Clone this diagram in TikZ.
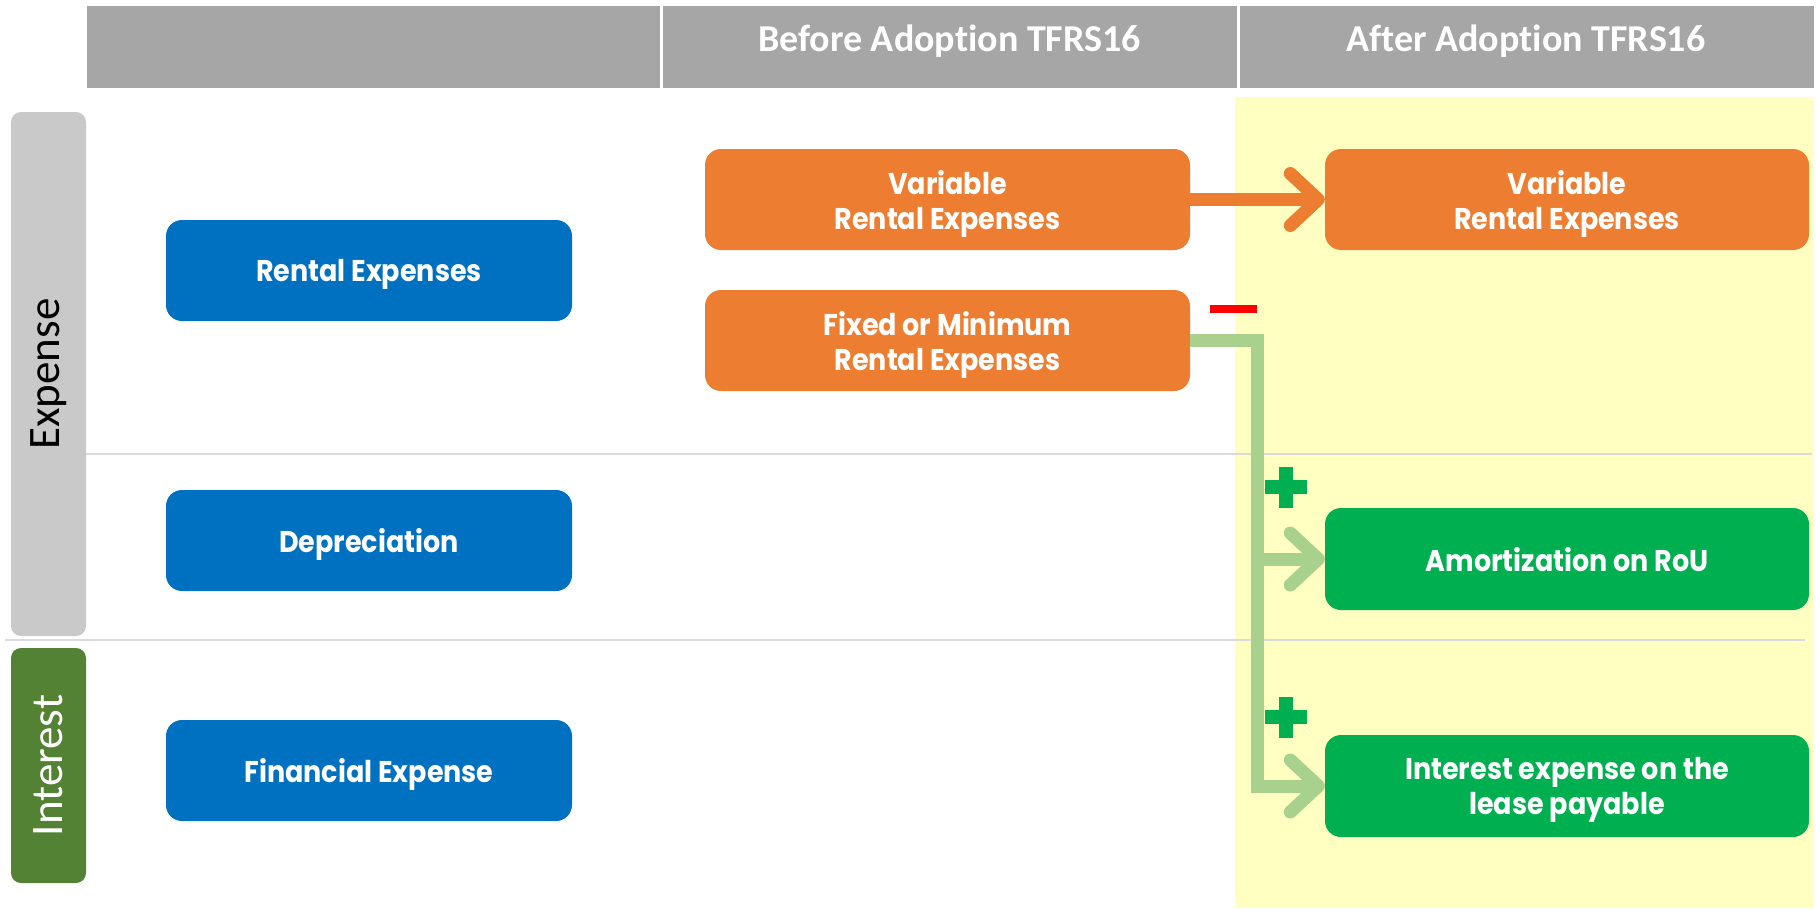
\documentclass[tikz,border=0pt]{standalone}
\usepackage{fontspec}
\usetikzlibrary{arrows.meta}
\newfontfamily\hdrfont[Ligatures=NoCommon]{Carlito}
\newfontfamily\boxfont[FakeStretch=0.9]{Poppins}
\definecolor{hdrgray}{HTML}{A6A6A6}
\definecolor{tabgray}{HTML}{C9C9C9}
\definecolor{tabgreen}{HTML}{548235}
\definecolor{boxblue}{HTML}{0070C0}
\definecolor{boxorange}{HTML}{ED7D31}
\definecolor{boxgreen}{HTML}{00B050}
\definecolor{lightgreen}{HTML}{A9D18E}
\definecolor{paleyellow}{HTML}{FFFFC1}
\definecolor{rulegray}{HTML}{D9D9DE}
\tikzset{
  box/.style={rounded corners=16pt, inner sep=0pt, text=white, align=center,
    font=\boxfont\bfseries\fontsize{30}{35}\selectfont, text depth=0pt},
  bluebox/.style={box, fill=boxblue, minimum width=406pt, minimum height=101pt},
  orangebox/.style={box, fill=boxorange, minimum width=485pt, minimum height=101pt},
  greenbox/.style={box, fill=boxgreen, minimum width=484pt, minimum height=102pt},
  tab/.style={rounded corners=10pt, rotate=90, inner sep=0pt, minimum height=75pt,
    font=\hdrfont\fontsize{45}{54}\selectfont},
  hdrtext/.style={anchor=base, text=white, font=\hdrfont\bfseries\fontsize{38}{45}\selectfont},
  rule/.style={draw=rulegray, line width=1.5pt},
  conn/.style={line width=13pt, line join=miter},
  chev/.style={-{Straight Barb[length=28pt, width=52pt, round]}},
}
\begin{document}
\begin{tikzpicture}[x=1pt, y=-1pt]
\useasboundingbox (0,0) rectangle (1816,910);
\fill[white] (0,0) rectangle (1816,910);
% yellow column
\fill[paleyellow] (1235,97) rectangle (1814,908);
% header
\fill[hdrgray] (87,6) rectangle (1814,88);
\draw[white, line width=3pt] (661,6) -- (661,88);
\draw[white, line width=3pt] (1238,6) -- (1238,88);
\node[hdrtext] (hbefore) at (949.5,51) {Before Adoption TFRS16};
\node[hdrtext] (hafter) at (1526,51) {After Adoption TFRS16};
% separators
\draw[rule] (86,454) -- (1812,454);
\draw[rule] (5,640) -- (1805,640);
% side tabs
\node[tab, fill=tabgray, minimum width=524pt, text=black] (exptab) at (48.5,374) {Expense};
\node[tab, fill=tabgreen, minimum width=235pt, text=white] (inttab) at (48.5,765.5) {Interest};
% blue boxes
\node[bluebox] (rent) at (369,270.5) {Rental Expenses};
\node[bluebox] (depr) at (369,540.5) {Depreciation};
\node[bluebox] (fin) at (369,770.5) {Financial Expense};
% orange boxes
\node[orangebox] (var1) at (947.5,199.5) {Variable\\Rental Expenses};
\node[orangebox] (fixed) at (947.5,340.5) {Fixed or Minimum\\Rental Expenses};
\node[orangebox, minimum width=484pt] (var2) at (1567,199.5) {Variable\\Rental Expenses};
% green boxes
\node[greenbox] (amort) at (1567,559) {Amortization on RoU};
\node[greenbox] (intr) at (1567,786) {Interest expense on the\\lease payable};
% connectors
\coordinate (vx) at (1257,0);
\draw[conn, draw=boxorange, chev] (var1.east) -- (var2.west);
\draw[conn, draw=lightgreen, chev] (fixed.east) -| (vx |- intr.west) -- (intr.west);
\draw[conn, draw=lightgreen, chev] (vx |- amort.west) -- (amort.west);
% signs
\fill[red] (1210,305) rectangle (1257,313);
\fill[boxgreen] (1265,480) rectangle (1307,494);
\fill[boxgreen] (1279,467) rectangle (1293,508);
\fill[boxgreen] (1265,710) rectangle (1307,724);
\fill[boxgreen] (1279,697) rectangle (1293,738);
\end{tikzpicture}
\end{document}
